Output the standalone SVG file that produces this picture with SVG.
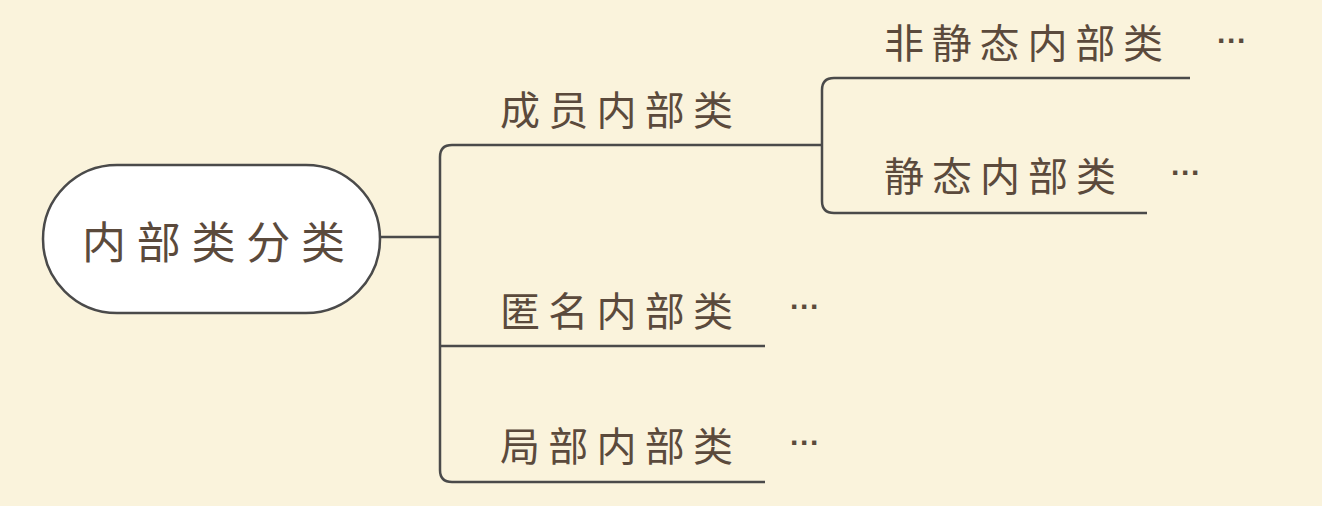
<svg xmlns="http://www.w3.org/2000/svg" width="1322" height="506" viewBox="0 0 1322 506">
<style>
.t{font-family:"Noto Sans CJK SC","Noto Sans",sans-serif;font-size:40px;fill:#5b4a3c}
.d{font-family:"Liberation Sans",sans-serif;font-size:30px;fill:#5b4a3c;font-weight:bold}
.l{fill:none;stroke:#4a4a4a;stroke-width:2.5}
</style>
<rect width="1322" height="506" fill="#FAF3DC"/>
<g id="connectors">
<path class="l" d="M380 237H440"/>
<path class="l" d="M822 145H452Q440 145 440 157V470Q440 482 452 482H765"/>
<path class="l" d="M440 346H765"/>
<path class="l" d="M1190 78H834Q822 78 822 90V201Q822 213 834 213H1147"/>
</g>
<g id="root"><rect x="43" y="165" width="337" height="148" rx="74" fill="#fff" stroke="#4a4a4a" stroke-width="2.5"/><text class="t" x="82" y="259" textLength="263" lengthAdjust="spacing" style="font-size:44px">内部类分类</text></g>
<g id="n1"><text class="t" x="500" y="125" textLength="233" lengthAdjust="spacing">成员内部类</text></g>
<g id="n2"><text class="t" x="500" y="326" textLength="233" lengthAdjust="spacing">匿名内部类</text><text class="d" x="790" y="317">···</text></g>
<g id="n3"><text class="t" x="500" y="461" textLength="233" lengthAdjust="spacing">局部内部类</text><text class="d" x="790" y="453">···</text></g>
<g id="n4"><text class="t" x="884" y="58" textLength="279" lengthAdjust="spacing">非静态内部类</text><text class="d" x="1217" y="51">···</text></g>
<g id="n5"><text class="t" x="884" y="191" textLength="232" lengthAdjust="spacing">静态内部类</text><text class="d" x="1171" y="183">···</text></g>
</svg>
